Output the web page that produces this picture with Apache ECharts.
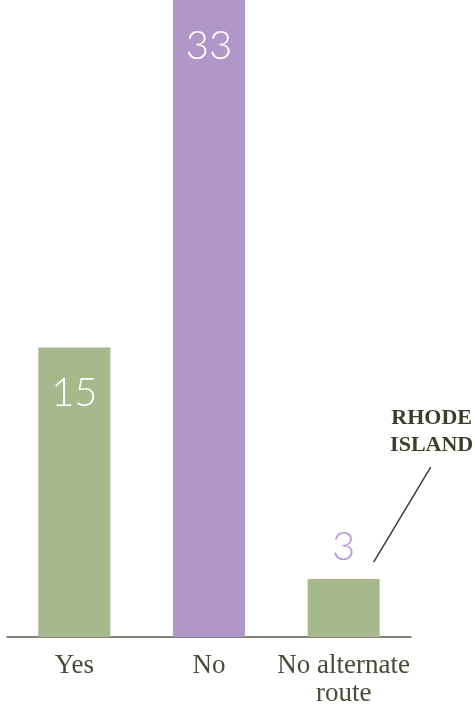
<!DOCTYPE html>
<html>
<head>
<meta charset="utf-8">
<script src="https://cdn.jsdelivr.net/npm/echarts@6/dist/echarts.min.js"></script>
<style>
html,body{margin:0;padding:0;background:#fff;}
#chart{width:475px;height:705px;}
</style>
</head>
<body>
<div id="chart"></div>
<script>
var categories = ['Yes', 'No', 'No alternate\nroute'];
var values = [15, 33, 3];
var barColors = ['#a6b88c', '#b196c8', '#a6b88c'];
var annotationText = 'RHODE\nISLAND';

var chart = echarts.init(document.getElementById('chart'));

var data = values.map(function (v, i) {
  var inside = i !== 2;
  return {
    value: v,
    itemStyle: { color: barColors[i] },
    label: inside ? {
      position: 'insideTop',
      distance: 26,
      color: '#ffffff'
    } : {
      position: 'top',
      distance: 12,
      color: '#b99bd2'
    }
  };
});

chart.setOption({
  animation: false,
  grid: { left: 7, right: 64, top: 0, bottom: 68 },
  xAxis: {
    type: 'category',
    data: categories,
    axisLine: { lineStyle: { color: '#5b5b48', width: 1.5 } },
    axisTick: { show: false },
    axisLabel: { show: false }
  },
  yAxis: {
    type: 'value',
    min: 0,
    max: 33,
    show: false,
    splitLine: { show: false }
  },
  series: [{
    type: 'bar',
    data: data,
    barWidth: 72,
    label: {
      show: true,
      fontFamily: 'Lato',
      fontWeight: 300,
      fontSize: 40
    }
  }]
});

var graphics = categories.map(function (c, i) {
  var pt = chart.convertToPixel({ gridIndex: 0 }, [i, 0]);
  return {
    type: 'text',
    x: pt[0],
    y: pt[1] + 15,
    style: {
      text: c,
      fill: '#4a4a38',
      font: 'normal 400 27px "Liberation Serif", "DejaVu Serif", serif',
      lineHeight: 28,
      align: 'center',
      verticalAlign: 'top'
    }
  };
});

var p = chart.convertToPixel({ gridIndex: 0 }, [2, values[2]]);
graphics.push(
  {
    type: 'line',
    shape: { x1: p[0] + 30, y1: p[1] - 17, x2: p[0] + 87, y2: p[1] - 112 },
    style: { stroke: '#3d3d2a', lineWidth: 1.5 }
  },
  {
    type: 'text',
    x: p[0] + 88,
    y: p[1] - 174,
    style: {
      text: annotationText,
      fill: '#3d3d2a',
      font: 'bold 22px "Liberation Serif"',
      lineHeight: 27,
      align: 'center',
      verticalAlign: 'top'
    }
  }
);
chart.setOption({ graphic: graphics });
</script>
</body>
</html>
